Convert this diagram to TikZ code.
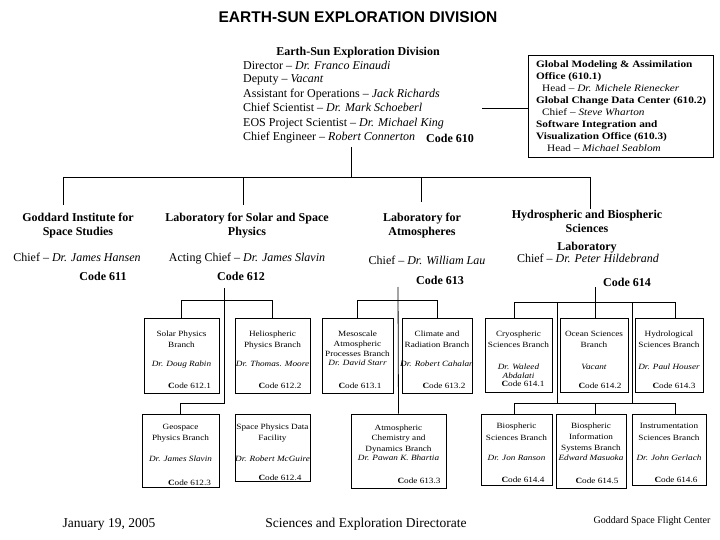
\documentclass[tikz,border=0pt]{standalone}
\usepackage{fontspec}
\setmainfont{Liberation Serif}
\newfontfamily\arialf{Liberation Sans}
\newfontfamily\sm{Liberation Serif}[FakeStretch=1.15,Ligatures=TeX]
\newcommand\cd[1]{\textbf{C}ode #1}
\newcommand\orgbox[5]{\node[bx, minimum width={(#4-#2)*1pt}, minimum height={(#5-#3)*1pt}] (#1) at ({(#2+#4)/2},{(#3+#5)/2}) {};}
\begin{document}
\begin{tikzpicture}[x=1pt,y=-1pt,
  ln/.style={line width=0.8pt},
  bx/.style={draw,line width=0.8pt,inner sep=0pt},
  bt/.style={inner sep=0pt,align=center,anchor=base,font=\sm\fontsize{8}{11}\selectfont},
  bn/.style={inner sep=0pt,align=center,anchor=base,font=\sm\itshape\fontsize{8}{9.5}\selectfont},
  bc/.style={inner sep=0pt,anchor=base,font=\sm\fontsize{8}{10}\selectfont},
  lb/.style={inner sep=0pt,align=center,anchor=base,font=\bfseries\fontsize{12}{13.5}\selectfont},
  lr/.style={inner sep=0pt,align=center,anchor=base,font=\fontsize{12}{14}\selectfont},
  mid/.style={inner sep=0pt,anchor=base west,font=\fontsize{12}{14}\selectfont},
  gt/.style={inner sep=0pt,anchor=base west,align=left,font=\sm\fontsize{9.8}{11.9}\selectfont},
  ft/.style={inner sep=0pt,anchor=base,font=\fontsize{13.5}{16}\selectfont}]
\fill[white] (0,0) rectangle (720,540);
\useasboundingbox (0,0) rectangle (720,540);

% title
\node[inner sep=0pt,anchor=base,font=\arialf\bfseries\fontsize{15.5}{18}\selectfont] (title) at (358,23) {EARTH-SUN EXPLORATION DIVISION};

% division block
\node[inner sep=0pt,anchor=base,font=\bfseries\fontsize{12}{14}\selectfont] (esed) at (358,56) {Earth-Sun Exploration Division};
\node[mid] (dir) at (243,70) {Director – \textit{Dr. Franco Einaudi}};
\node[mid] (dep) at (243,83) {Deputy – \textit{Vacant}};
\node[mid] (aso) at (243,98) {Assistant for Operations – \textit{Jack Richards}};
\node[mid] (csc) at (243,112) {Chief Scientist – \textit{Dr. Mark Schoeberl}};
\node[mid] (eos) at (243,127) {EOS Project Scientist – \textit{Dr. Michael King}};
\node[mid] (ceng) at (243,141) {Chief Engineer – \textit{Robert Connerton}};
\node[lb] (c610) at (450,143) {Code 610};

% global box
\orgbox{gbox}{528}{55}{713}{157}
\node[gt] (gtxt) at (536,151.3) {\textbf{Global Modeling \& Assimilation}\\
\textbf{Office (610.1)}\\
\hspace*{6pt}Head – \textit{Dr. Michele Rienecker}\\
\textbf{Global Change Data Center (610.2)}\\
\hspace*{6pt}Chief – \textit{Steve Wharton}\\
\textbf{Software Integration and}\\
\textbf{Visualization Office (610.3)}\\
\hspace*{11pt}Head – \textit{Michael Seablom}};

% top connectors
\coordinate (d610) at (351,147);
\coordinate (jt) at (351,177);
\coordinate (jl) at (63,177);
\coordinate (jr) at (590,177);
\coordinate (e611) at (63,205);
\coordinate (e612) at (243,205);
\coordinate (e613) at (421,202);
\coordinate (e614) at (590,209);
\coordinate (g610) at (482,108);
\draw[ln] (d610) -- (jt);
\draw[ln] (jl) -- (jr);
\draw[ln] (jl) -- (e611);
\draw[ln] (e612 |- jt) -- (e612);
\draw[ln] (e613 |- jt) -- (e613);
\draw[ln] (jr) -- (e614);
\draw[ln] (g610) -- (g610 -| gbox.west);

% labs
\node[lb] (l611) at (78,235.5) {Goddard Institute for\\Space Studies};
\node[lr] (h611) at (77,261) {Chief – \textit{Dr. James Hansen}};
\node[lb] (c611) at (103,280) {Code 611};
\node[lb] (l612) at (247,235.5) {Laboratory for Solar and Space\\Physics};
\node[lr] (h612) at (247,261) {Acting Chief – \textit{Dr. James Slavin}};
\node[lb] (c612) at (241,280) {Code 612};
\node[lb,font=\bfseries\fontsize{12}{14}\selectfont] (l613) at (422,236) {Laboratory for\\Atmospheres};
\node[lr] (h613) at (427,264) {Chief – \textit{Dr. William Lau}};
\node[lb] (c613) at (440,284) {Code 613};
\node[lb,font=\bfseries\fontsize{12}{14}\selectfont] (l614) at (587,233) {Hydrospheric and Biospheric\\Sciences};
\node[lb] (l614b) at (587,251) {Laboratory};
\node[lr] (h614) at (588,262) {Chief – \textit{Dr. Peter Hildebrand}};
\node[lb] (c614) at (627,286) {Code 614};

% branch boxes
\orgbox{b6121}{144}{318}{219}{393}
\orgbox{b6122}{235}{318}{310}{393}
\orgbox{b6131}{322}{318}{393}{393}
\orgbox{b6132}{402}{318}{472}{393}
\orgbox{b6141}{485}{318}{552}{392}
\orgbox{b6142}{560}{318}{628}{392}
\orgbox{b6143}{635}{318}{703}{392}
\orgbox{b6123}{142}{414}{219}{487}
\orgbox{b6124}{235}{414}{310}{481}
\orgbox{b6133}{351}{414}{446}{488}
\orgbox{b6144}{481}{414}{552}{485}
\orgbox{b6145}{556}{414}{626}{488}
\orgbox{b6146}{632}{414}{706}{485}

% row 1 texts
\node[bt] (t6121) at (181.5,347) {Solar Physics\\Branch};
\node[bn] (n6121) at (181.5,366) {Dr. Doug Rabin};
\node[bc] (k6121) at (189.5,388) {\cd{612.1}};
\node[bt] (t6122) at (272.5,347) {Heliospheric\\Physics Branch};
\node[bn] (n6122) at (272.5,366) {Dr. Thomas. Moore};
\node[bc] (k6122) at (280,388) {\cd{612.2}};
\node[bt,font=\sm\fontsize{8}{10}\selectfont] (t6131) at (357.5,356) {Mesoscale\\Atmospheric\\Processes Branch};
\node[bn] (n6131) at (357.5,365.5) {Dr. David Starr};
\node[bc] (k6131) at (360,388) {\cd{613.1}};
\node[bt] (t6132) at (437,347) {Climate and\\Radiation Branch};
\node[bn] (n6132) at (437,366) {Dr. Robert Cahalan};
\node[bc] (k6132) at (444,388) {\cd{613.2}};
\node[bt] (t6141) at (518.5,347) {Cryospheric\\Sciences Branch};
\node[bn] (n6141) at (518.5,378.5) {Dr. Waleed\\Abdalati};
\node[bc] (k6141) at (523,386.5) {\cd{614.1}};
\node[bt] (t6142) at (594,347) {Ocean Sciences\\Branch};
\node[bn] (n6142) at (594,369) {Vacant};
\node[bc] (k6142) at (600,388) {\cd{614.2}};
\node[bt] (t6143) at (669,347) {Hydrological\\Sciences Branch};
\node[bn] (n6143) at (669,369) {Dr. Paul Houser};
\node[bc] (k6143) at (674,388) {\cd{614.3}};

% row 2 texts
\node[bt] (t6123) at (180.5,440) {Geospace\\Physics Branch};
\node[bn] (n6123) at (180.5,461) {Dr. James Slavin};
\node[bc] (k6123) at (189.5,485) {\cd{612.3}};
\node[bt] (t6124) at (272.5,440) {Space Physics Data\\Facility};
\node[bn] (n6124) at (272.5,461) {Dr. Robert McGuire};
\node[bc] (k6124) at (280,480) {\cd{612.4}};
\node[bt,font=\sm\fontsize{8}{10.5}\selectfont] (t6133) at (398.5,451) {Atmospheric\\Chemistry and\\Dynamics Branch};
\node[bn] (n6133) at (398.5,460) {Dr. Pawan K. Bhartia};
\node[bc] (k6133) at (419,483) {\cd{613.3}};
\node[bt,font=\sm\fontsize{8}{12}\selectfont] (t6144) at (516.5,440) {Biospheric\\Sciences Branch};
\node[bn] (n6144) at (516.5,460) {Dr. Jon Ranson};
\node[bc] (k6144) at (523,482) {\cd{614.4}};
\node[bt,font=\sm\fontsize{8}{11.3}\selectfont] (t6145) at (591,450.6) {Biospheric\\Information\\Systems Branch};
\node[bn] (n6145) at (591,460) {Edward Masuoka};
\node[bc] (k6145) at (597,483) {\cd{614.5}};
\node[bt,font=\sm\fontsize{8}{12}\selectfont] (t6146) at (669,440) {Instrumentation\\Sciences Branch};
\node[bn] (n6146) at (669,460) {Dr. John Gerlach};
\node[bc] (k6146) at (676,482) {\cd{614.6}};

% 612 tree
\coordinate (s612) at (224,288);
\coordinate (k612) at (224,403);
\draw[ln] (s612) -- (k612) -| (b6123.north);
\draw[ln] (b6121.north) -- ++(0,-17) -| (b6122.north);

% 613 tree
\coordinate (s613) at (398,287);
\draw[ln] (s613) -- (b6133.north);
\draw[ln] (b6131.north) -- ++(0,-17) -| (b6132.north);

% 614 tree
\coordinate (s614) at (595,287);
\coordinate (k614) at (595,302);
\coordinate (h1l) at (514,302);
\coordinate (h1r) at (675,302);
\coordinate (h2l) at (514,403);
\coordinate (h2m) at (595,403);
\coordinate (h2r) at (675,403);
\coordinate (v1t) at (557,302);
\coordinate (v1b) at (557,403);
\coordinate (v2t) at (632,302);
\coordinate (v2b) at (632,403);
\draw[ln] (s614) -- (k614);
\draw[ln] (h1l) -- (h1r);
\draw[ln] (h1l) -- (h1l |- b6141.north);
\draw[ln] (k614) -- (k614 |- b6142.north);
\draw[ln] (h1r) -- (h1r |- b6143.north);
\draw[ln] (v1t) -- (v1b);
\draw[ln] (v2t) -- (v2b);
\draw[ln] (h2l) -- (h2r);
\draw[ln] (h2l) -- (h2l |- b6144.north);
\draw[ln] (h2m) -- (h2m |- b6145.north);
\draw[ln] (h2r) -- (h2r |- b6146.north);

% footer
\node[ft] (date) at (109,527.5) {January 19, 2005};
\node[ft] (sed) at (366,527.5) {Sciences and Exploration Directorate};
\node[inner sep=0pt,anchor=base,font=\fontsize{10}{12}\selectfont] (gsfc) at (652,523.5) {Goddard Space Flight Center};
\end{tikzpicture}
\end{document}
